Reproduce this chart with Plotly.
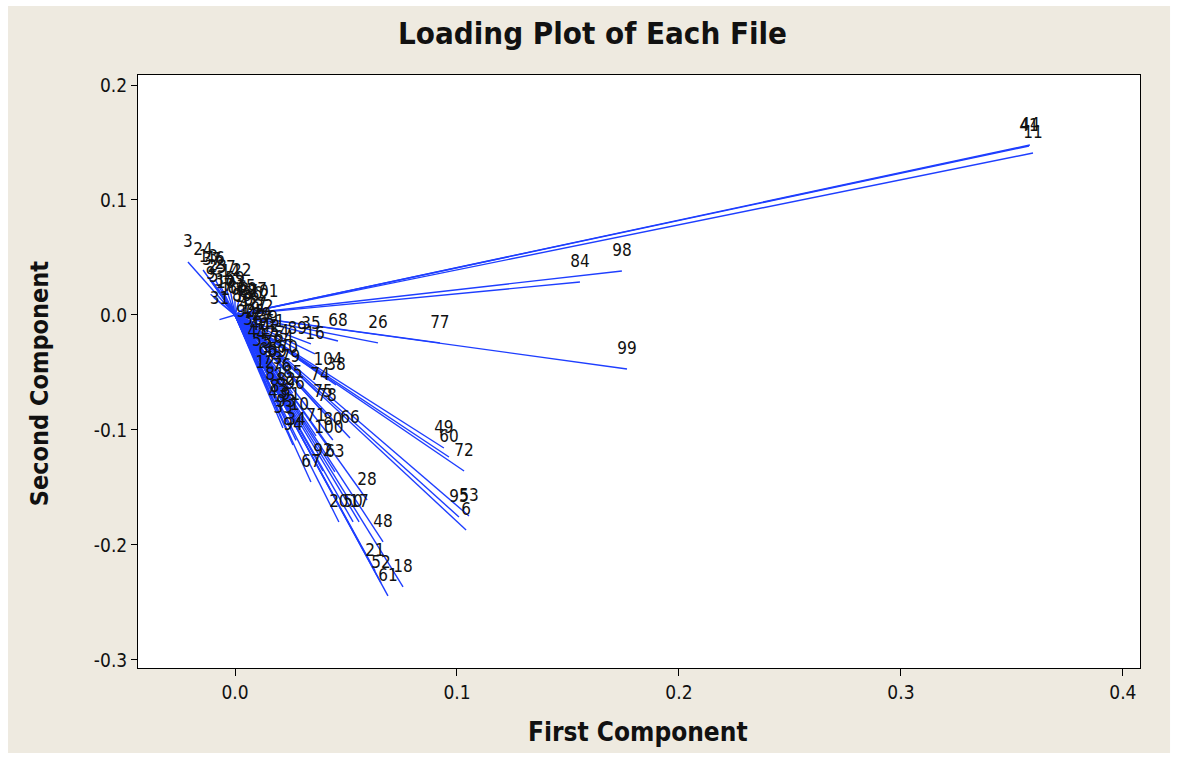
import plotly.graph_objects as go

# File identifiers and their loadings on the first two principal components
files = [
    "44", "41", "11", "98", "84", "99", "77", "26", "68", "35", "16",
    "104", "38", "74", "75", "78", "71", "80", "66", "100",
    "49", "60", "72", "95", "53", "6", "28", "20", "50", "17", "48",
    "21", "52", "61", "18", "94", "34", "43", "33", "12", "67", "92", "63",
    "3", "24",
    "13", "37", "46", "2", "23", "9", "5", "57", "14", "22", "30", "59",
    "7", "86", "15", "56", "62", "31", "1", "4", "8", "19", "25", "27",
    "29", "32", "36", "39", "40", "42", "45", "47", "51", "54", "55",
    "58", "64", "65", "69", "70", "73", "76", "79", "81", "82", "83",
    "85", "87", "88", "89", "90", "91", "93", "96", "97", "101", "102",
    "103", "10",
]

first_component = [
    0.3581, 0.3577, 0.3595, 0.1743, 0.1554, 0.1766, 0.0923, 0.0644, 0.0464, 0.0342, 0.0360,
    0.0419, 0.0455, 0.0383, 0.0396, 0.0414, 0.0365, 0.0441, 0.0518, 0.0423,
    0.0941, 0.0964, 0.1032, 0.1009, 0.1054, 0.1041, 0.0595, 0.0468, 0.0532, 0.0559, 0.0667,
    0.0631, 0.0658, 0.0689, 0.0757, 0.0261, 0.0275, 0.0194, 0.0216, 0.0135, 0.0342, 0.0396, 0.0450,
    -0.0212, -0.0144,
    -0.0120, -0.0105, -0.0090, -0.0070, -0.0080, -0.0110, -0.0095, -0.0040, -0.0020, 0.0030, -0.0050, 0.0000,
    -0.0030, 0.0010, 0.0050, 0.0080, 0.0110, -0.0070, 0.0020, 0.0040, 0.0060, 0.0070, 0.0090, 0.0100,
    0.0120, 0.0130, 0.0080, 0.0150, 0.0110, 0.0160, 0.0100, 0.0140, 0.0180, 0.0200, 0.0120,
    0.0170, 0.0220, 0.0150, 0.0190, 0.0240, 0.0170, 0.0210, 0.0250, 0.0180, 0.0230, 0.0200,
    0.0260, 0.0060, 0.0030, 0.0280, 0.0050, 0.0250, 0.0230, 0.0270, 0.0100, 0.0130, 0.0000,
    -0.0020, 0.0290,
]

second_component = [
    0.1478, 0.1470, 0.1409, 0.0383, 0.0287, -0.0470, -0.0243, -0.0243, -0.0226, -0.0252, -0.0339,
    -0.0565, -0.0609, -0.0696, -0.0843, -0.0878, -0.1052, -0.1087, -0.1070, -0.1157,
    -0.1157, -0.1235, -0.1357, -0.1757, -0.1748, -0.1870, -0.1609, -0.1800, -0.1800, -0.1800, -0.1974,
    -0.2226, -0.2330, -0.2443, -0.2365, -0.1130, -0.1090, -0.0852, -0.0983, -0.0591, -0.1452, -0.1357, -0.1365,
    0.0461, 0.0391,
    0.0330, 0.0300, 0.0310, 0.0270, 0.0240, 0.0180, 0.0150, 0.0230, 0.0200, 0.0210, 0.0120, 0.0140,
    0.0080, 0.0060, 0.0070, 0.0010, -0.0010, -0.0040, -0.0020, -0.0080, -0.0050, -0.0120, -0.0150, -0.0090,
    -0.0180, -0.0110, -0.0220, -0.0200, -0.0260, -0.0280, -0.0320, -0.0340, -0.0240, -0.0320, -0.0400,
    -0.0420, -0.0380, -0.0480, -0.0500, -0.0460, -0.0560, -0.0620, -0.0540, -0.0700, -0.0740, -0.0800,
    -0.0680, 0.0020, -0.0010, -0.0300, -0.0150, -0.0870, -0.0930, -0.0780, 0.0040, 0.0020, 0.0040,
    0.0100, -0.0960,
]

x_ticks = [0.0, 0.1, 0.2, 0.3, 0.4]
y_ticks = [-0.3, -0.2, -0.1, 0.0, 0.1, 0.2]

BEIGE = "#EEEAE0"
LINE_BLUE = "rgb(30,62,255)"
FONT = "DejaVu Sans Condensed, DejaVu Sans, sans-serif"

# Each loading vector runs from the origin to its (first, second) component point
seg_x, seg_y = [], []
for fx, sy in zip(first_component, second_component):
    seg_x += [0, fx, None]
    seg_y += [0, sy, None]

fig = go.Figure()
fig.add_trace(go.Scatter(
    x=seg_x, y=seg_y, mode="lines",
    line=dict(color=LINE_BLUE, width=1.4),
    hoverinfo="skip", showlegend=False,
))
fig.add_trace(go.Scatter(
    x=first_component, y=second_component, text=files,
    mode="markers+text", textposition="top center",
    marker=dict(size=16, opacity=0),
    textfont=dict(family=FONT, size=17, color="#111"),
    showlegend=False,
))

fig.update_layout(
    width=1178, height=759,
    margin=dict(l=138, r=38, t=75, b=91),
    paper_bgcolor="white",
    plot_bgcolor="white",
    title=dict(text="<b>Loading Plot of Each File</b>", x=0.503, xanchor="center",
               y=1 - 33 / 759, yanchor="middle", yref="container",
               font=dict(family=FONT, size=31, color="#111")),
    font=dict(family=FONT, color="#111"),
    shapes=[
        dict(type="rect", xref="paper", yref="paper", layer="below",
             x0=-0.1297, x1=1.030, y0=-0.1433, y1=1.1164,
             fillcolor=BEIGE, line=dict(width=0)),
        dict(type="rect", xref="paper", yref="paper", layer="below",
             x0=0, x1=1, y0=0, y1=1,
             fillcolor="white", line=dict(width=0)),
    ],
    annotations=[
        dict(text="<b>First Component</b>", xref="paper", yref="paper",
             x=0.499, y=-0.108, xanchor="center", yanchor="middle", showarrow=False,
             font=dict(family=FONT, size=26, color="#111")),
        dict(text="<b>Second Component</b>", xref="paper", yref="paper",
             x=-0.098, y=0.48, xanchor="center", yanchor="middle", showarrow=False,
             textangle=-90, font=dict(family=FONT, size=25, color="#111")),
    ],
)

fig.update_xaxes(
    range=[-0.0437, 0.4077], tickvals=x_ticks,
    ticktext=[f"{v:.1f}" for v in x_ticks],
    showgrid=False, zeroline=False,
    showline=True, linecolor="black", linewidth=1, mirror=True,
    ticks="outside", ticklen=7, tickcolor="black",
    tickfont=dict(family=FONT, size=19, color="#111"),
)
fig.update_yaxes(
    range=[-0.307, 0.2087], tickvals=y_ticks,
    ticktext=[f"{v:.1f}" for v in y_ticks],
    showgrid=False, zeroline=False,
    showline=True, linecolor="black", linewidth=1, mirror=True,
    ticks="outside", ticklen=6, tickcolor="black",
    tickfont=dict(family=FONT, size=19, color="#111"),
)

fig.write_html("out.html")
